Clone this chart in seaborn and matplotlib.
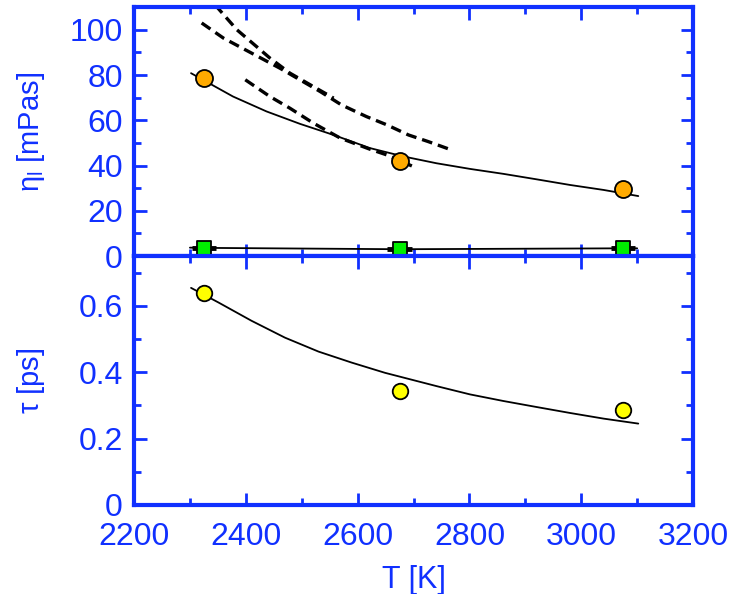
import numpy as np
import pandas as pd
import matplotlib
matplotlib.use("Agg")
import matplotlib.pyplot as plt
from matplotlib.ticker import MultipleLocator
import seaborn as sns

# measured points
T_pts = [2325, 2675, 3075]
eta_orange = [78.5, 41.8, 29.7]
eta_green = [3.6, 3.0, 3.4]
tau_yellow = [0.64, 0.343, 0.285]

# solid fit curves
fit_eta_T = [2302, 2377, 2437, 2497, 2557, 2622, 2682, 2741, 2801, 2861, 2920, 2980, 3040, 3102]
fit_eta = [80.8, 70.5, 63.9, 58.4, 53.5, 47.7, 44.0, 41.0, 38.5, 36.3, 33.9, 31.4, 29.2, 26.5]
fit_green_T = [2300, 2325, 2675, 3075, 3100]
fit_green = [3.7, 3.6, 3.0, 3.4, 3.4]
fit_tau_T = [2302, 2351, 2410, 2470, 2530, 2589, 2649, 2741, 2801, 2861, 2920, 2980, 3040, 3102]
fit_tau = [0.654, 0.610, 0.555, 0.504, 0.462, 0.429, 0.398, 0.358, 0.333, 0.313, 0.295, 0.277, 0.260, 0.245]

# dashed literature curves
dashA_T = [2345, 2384, 2419, 2443, 2479, 2515, 2557]
dashA = [111.0, 100.0, 92.6, 87.5, 80.8, 75.7, 69.8]
dashB_T = [2321, 2360, 2461, 2533, 2571, 2616, 2652, 2691, 2726, 2771]
dashB = [103.0, 96.3, 83.0, 72.7, 66.8, 61.6, 58.0, 53.5, 50.6, 46.6]
dashC_T = [2399, 2443, 2479, 2521, 2569, 2622, 2652, 2697]
dashC = [77.9, 70.5, 65.3, 58.7, 52.1, 47.2, 44.7, 39.8]

blue = "#1030ff"

sns.set_style("ticks")
plt.rcParams['font.family'] = ['Liberation Sans', 'DejaVu Sans']
plt.rcParams['mathtext.fontset'] = 'custom'
plt.rcParams['mathtext.rm'] = 'Liberation Sans'
plt.rcParams['mathtext.it'] = 'Liberation Sans'

fig = plt.figure(figsize=(7.38, 5.94), dpi=100)
ax1 = fig.add_axes([0.1816, 0.569, 0.7575, 0.419])
ax2 = fig.add_axes([0.1816, 0.150, 0.7575, 0.419])

# top panel
for xs, ys in [(dashA_T, dashA), (dashB_T, dashB), (dashC_T, dashC)]:
    sns.lineplot(x=xs, y=ys, ax=ax1, color="black", lw=2.4, sort=False, zorder=2)
    ax1.lines[-1].set_dashes((3.2, 1.8))
sns.lineplot(x=fit_eta_T, y=fit_eta, ax=ax1, color="black", lw=1.3, sort=False, zorder=3)
sns.lineplot(x=fit_green_T, y=fit_green, ax=ax1, color="black", lw=1.3, sort=False, zorder=3)
ax1.errorbar(T_pts, eta_green, xerr=22, fmt="none", ecolor="black", elinewidth=3.5, capsize=0, zorder=4)
sns.scatterplot(x=T_pts, y=eta_orange, ax=ax1, color="#ffaa00", s=150, marker="o",
                edgecolor="black", linewidth=1.3, zorder=5)
sns.scatterplot(x=T_pts, y=eta_green, ax=ax1, color="#00ee00", s=110, marker="s",
                edgecolor="black", linewidth=1.3, zorder=5)

# bottom panel
sns.lineplot(x=fit_tau_T, y=fit_tau, ax=ax2, color="black", lw=1.3, sort=False, zorder=3)
sns.scatterplot(x=T_pts, y=tau_yellow, ax=ax2, color="#ffff00", s=125, marker="o",
                edgecolor="black", linewidth=1.3, zorder=5)

ax1.set_xlim(2200, 3200)
ax2.set_xlim(2200, 3200)
ax1.set_ylim(0, 110)
ax2.set_ylim(0, 0.75)

for ax in (ax1, ax2):
    ax.xaxis.set_major_locator(MultipleLocator(200))
    ax.xaxis.set_minor_locator(MultipleLocator(100))
    for sp in ax.spines.values():
        sp.set_visible(True)
        sp.set_color(blue)
        sp.set_linewidth(3)
    ax.tick_params(which="both", direction="in", top=True, right=True,
                   color=blue, labelcolor=blue, width=2, labelsize=23)
    ax.tick_params(which="major", length=9, pad=8)
    ax.tick_params(which="minor", length=5)
    ax.tick_params(axis="x", which="major", pad=12)

ax1.yaxis.set_major_locator(MultipleLocator(20))
ax1.yaxis.set_minor_locator(MultipleLocator(10))
ax2.yaxis.set_minor_locator(MultipleLocator(0.1))
ax2.set_yticks([0, 0.2, 0.4, 0.6])
ax2.set_yticklabels(["0", "0.2", "0.4", "0.6"])
ax1.tick_params(axis="x", labelbottom=False)

ax1.set_ylabel(r"$\eta_{\mathrm{l}}$ [mPas]", color=blue, fontsize=21)
ax2.set_ylabel(r"$\tau$ [ps]", color=blue, fontsize=21)
ax1.yaxis.set_label_coords(-0.155, 0.5)
ax2.yaxis.set_label_coords(-0.155, 0.5)
ax2.set_xlabel("T [K]", color=blue, fontsize=22, labelpad=10)

fig.savefig("out.png", dpi=100)
